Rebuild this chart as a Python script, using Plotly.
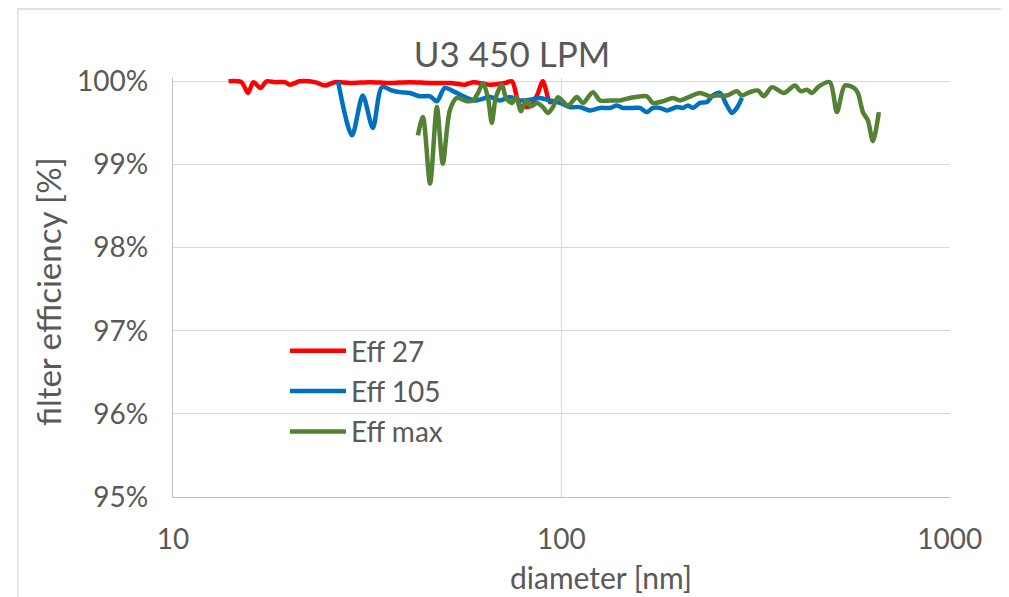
import plotly.graph_objects as go

# ---- data ----
title_text = "U3 450 LPM"
x_title = "diameter [nm]"
y_title = "filter efficiency [%]"

x_tickvals = [10, 100, 1000]
x_ticktext = ["10", "100", "1000"]
y_tickvals = [95, 96, 97, 98, 99, 100]
y_ticktext = ["95%", "96%", "97%", "98%", "99%", "100%"]

eff27_d = [13.9, 15.0, 15.6, 16.1, 16.8, 17.4, 18.3, 19.4, 20.0, 21.2, 23.2, 24.6, 26.1, 28.6,
           32.2, 36.2, 40.7, 45.9, 51.6, 56.5, 59.2, 65.5, 71.6, 74.6, 78.2, 83.0, 86.5, 89.6,
           93.4, 95.7]
eff27_e = [100.0, 99.99, 99.86, 99.99, 99.92, 100.0, 99.99, 99.99, 99.96, 100.0, 99.99, 99.95,
           99.99, 99.98, 99.99, 99.98, 99.99, 99.98, 99.98, 99.96, 99.99, 99.96, 99.98, 100.0,
           99.71, 99.70, 99.83, 100.0, 99.75, 99.77]

eff105_d = [26.6, 28.9, 30.8, 32.7, 34.5, 36.6, 38.4, 40.7, 43.2, 45.9, 47.8, 50.1, 53.2, 56.5,
            59.9, 65.5, 69.5, 73.7, 78.2, 83.0, 88.1, 93.4, 99.1, 105.2, 111.6, 118.4, 125.7,
            133.3, 139.0, 144.0, 152.8, 159.2, 166.0, 172.0, 179.3, 186.9, 198.3, 205.5, 211.7,
            218.1, 227.3, 236.9, 245.5, 255.9, 266.7, 274.8, 283.0, 291.6]
eff105_e = [100.0, 99.35, 99.83, 99.44, 99.93, 99.89, 99.87, 99.86, 99.82, 99.82, 99.76, 99.92,
            99.87, 99.81, 99.77, 99.81, 99.77, 99.81, 99.77, 99.78, 99.80, 99.77, 99.74, 99.69,
            99.69, 99.65, 99.68, 99.68, 99.71, 99.68, 99.68, 99.68, 99.63, 99.68, 99.68, 99.65,
            99.69, 99.68, 99.71, 99.68, 99.74, 99.75, 99.83, 99.86, 99.71, 99.62, 99.68, 99.80]

effmax_d = [42.7, 44.0, 45.9, 47.8, 49.5, 51.6, 53.8, 57.1, 59.2, 61.0, 62.8, 64.7, 66.2, 67.8,
            70.3, 72.0, 74.6, 76.4, 78.7, 81.0, 83.5, 86.5, 89.6, 92.3, 95.1, 98.0, 103.9, 109.6,
            113.6, 120.5, 125.7, 133.3, 141.5, 150.1, 166.0, 172.0, 182.5, 193.6, 201.8, 210.4,
            227.3, 241.1, 251.3, 266.7, 283.0, 291.6, 305.7, 320.5, 332.1, 348.3, 373.9, 399.0,
            413.5, 428.5, 441.4, 460.1, 491.1, 511.9, 536.7, 566.2, 579.8, 597.3, 615.2, 633.7,
            656.6]
effmax_e = [99.35, 99.57, 98.77, 99.69, 99.01, 99.65, 99.80, 99.76, 99.77, 99.86, 99.98, 99.80,
            99.50, 99.81, 99.96, 99.80, 99.74, 99.81, 99.64, 99.77, 99.70, 99.74, 99.69, 99.62,
            99.69, 99.81, 99.71, 99.81, 99.74, 99.87, 99.77, 99.77, 99.77, 99.80, 99.82, 99.74,
            99.76, 99.80, 99.77, 99.80, 99.86, 99.82, 99.83, 99.83, 99.88, 99.83, 99.87, 99.89,
            99.82, 99.93, 99.86, 99.95, 99.88, 99.90, 99.86, 99.94, 99.99, 99.63, 99.95, 99.92,
            99.86, 99.63, 99.53, 99.28, 99.63]

series = [
    ("Eff 27", eff27_d, eff27_e, "#FF0000"),
    ("Eff 105", eff105_d, eff105_e, "#0070C0"),
    ("Eff max", effmax_d, effmax_e, "#548235"),
]

FONT = "Lato"
TXT = "#595959"

fig = go.Figure()
for i, (name, xs, ys, col) in enumerate(series):
    fig.add_trace(go.Scatter(
        x=xs, y=ys, name=name, mode="lines",
        line=dict(color=col, width=4.5, shape="spline", smoothing=0.8),
        legendgroup=f"g{i}",
    ))

# The page body adds an 8px offset; layout is designed in screen pixels.
OFF = 8
W, H = 1009 - OFF, 597 - OFF
L = 173 - OFF
R = W - (950 - OFF)
T = 78 - OFF
B = H - (497 - OFF)
pw = W - L - R
ph = H - T - B


def px_x(p):
    return (p - OFF - L) / pw


def px_y(p):
    return (H - B - (p - OFF)) / ph


fig.update_layout(
    width=W, height=H,
    margin=dict(l=L, r=R, t=T, b=B),
    paper_bgcolor="white", plot_bgcolor="white",
    font=dict(family=FONT, color=TXT, size=28),
    title=dict(text=title_text, x=(512 - OFF) / W, xref="container", xanchor="center",
               y=1 - (55 - OFF) / H, yref="container", yanchor="middle",
               font=dict(size=35, color=TXT, family=FONT)),
    showlegend=True,
    legend=dict(x=px_x(285), y=px_y(326), xanchor="left", yanchor="top",
                bgcolor="rgba(0,0,0,0)", font=dict(size=28, color=TXT, family=FONT),
                itemwidth=56, tracegroupgap=1),
    xaxis=dict(type="log", range=[1, 3.0004], tickvals=x_tickvals, ticktext=x_ticktext,
               showgrid=True, gridcolor="#d9d9d9", gridwidth=1.3,
               showline=True, linecolor="#bfbfbf", linewidth=1.3,
               ticks="", ticklabelstandoff=17, zeroline=False,
               tickfont=dict(size=28, color=TXT, family=FONT)),
    yaxis=dict(range=[95, 100.04], tickvals=y_tickvals, ticktext=y_ticktext,
               showgrid=True, gridcolor="#d9d9d9", gridwidth=1.3,
               showline=True, linecolor="#bfbfbf", linewidth=1.3,
               ticks="", ticklabelstandoff=18, zeroline=False,
               tickfont=dict(size=28, color=TXT, family=FONT)),
    annotations=[
        dict(text=x_title, x=px_x(601), y=px_y(577), xref="paper", yref="paper",
             xanchor="center", yanchor="middle", showarrow=False,
             font=dict(size=30, color=TXT, family=FONT)),
        dict(text=y_title, x=px_x(48), y=px_y(292), xref="paper", yref="paper",
             xanchor="center", yanchor="middle", showarrow=False, textangle=-90,
             font=dict(size=33, color=TXT, family=FONT)),
    ],
    shapes=[
        dict(type="rect", xref="paper", yref="paper",
             x0=px_x(18), x1=px_x(1005), y0=px_y(620), y1=px_y(9),
             line=dict(color="#d9d9d9", width=1.3), fillcolor="rgba(0,0,0,0)", layer="below"),
    ],
)

fig.write_html("out.html")
